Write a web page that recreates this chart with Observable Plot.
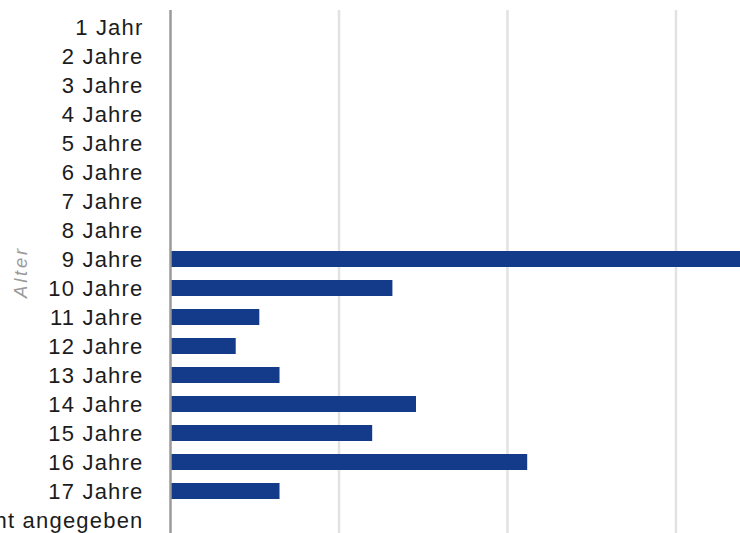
<!DOCTYPE html>
<html>
<head>
<meta charset="utf-8">
<script src="https://cdn.jsdelivr.net/npm/d3@7"></script>
<script src="https://cdn.jsdelivr.net/npm/@observablehq/plot@0.6"></script>
<style>
  html, body { margin: 0; padding: 0; background: #fff; overflow: hidden; }
  #chart svg { display: block; }
  #chart svg text { letter-spacing: 1.2px; }
</style>
</head>
<body>
<div id="chart"></div>
<script>
const categories = ["1 Jahr", "2 Jahre", "3 Jahre", "4 Jahre", "5 Jahre", "6 Jahre", "7 Jahre", "8 Jahre", "9 Jahre", "10 Jahre", "11 Jahre", "12 Jahre", "13 Jahre", "14 Jahre", "15 Jahre", "16 Jahre", "17 Jahre", "nicht angegeben"];
const values = [0, 0, 0, 0, 0, 0, 0, 0, 35, 13.2, 5.3, 3.9, 6.5, 14.6, 12.0, 21.2, 6.5, 0];
const gridTicks = [10, 20, 30];
const axisLabel = "Alter";

const data = categories.map((c, i) => ({cat: c, value: values[i]}));

const chart = Plot.plot({
  width: 740,
  height: 533,
  marginLeft: 170,
  marginRight: 0,
  marginTop: 10,
  marginBottom: 0,
  style: {fontFamily: "'Liberation Sans', Arial, sans-serif", background: "#fff", overflow: "hidden"},
  x: {domain: [0, 33.83], axis: null},
  y: {domain: categories, range: [9.3, 537.7], paddingInner: 0.455, paddingOuter: 0.2275, align: 0.5, axis: null},
  marks: [
    Plot.ruleX(gridTicks, {stroke: "#e2e2e2", strokeWidth: 2.5}),
    Plot.barX(data, {x: "value", y: "cat", fill: "#133b8a", clip: true}),
    Plot.ruleX([0], {stroke: "#9a9a9a", strokeWidth: 2.5}),
    Plot.axisY({tickSize: 0, tickPadding: 27, fontSize: 22, label: null, fill: "#1c1c1c"}),
    Plot.text([axisLabel], {frameAnchor: "left", dx: -149, dy: 26, rotate: -90, fontSize: 18.5, fontStyle: "italic", fill: "#9a9a9a"})
  ]
});
chart.querySelectorAll("text").forEach(t => { if (t.textContent === axisLabel) t.style.letterSpacing = "2.8px"; });
document.getElementById("chart").appendChild(chart);
</script>
</body>
</html>
